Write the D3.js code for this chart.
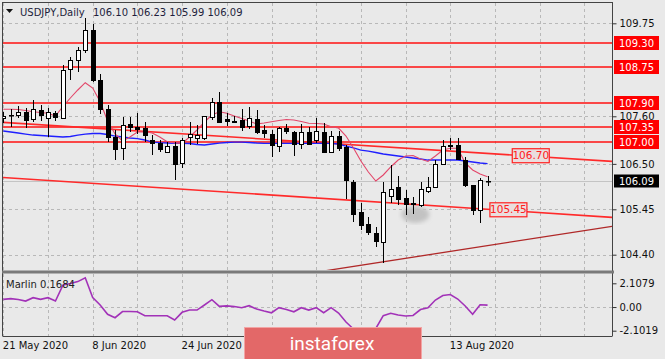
<!DOCTYPE html>
<html><head><meta charset="utf-8">
<script src="https://cdn.jsdelivr.net/npm/d3@7"></script>
<style>
html,body{margin:0;padding:0;background:#e9e9e9;}
svg{display:block;font-family:"DejaVu Sans",Verdana,sans-serif;}
</style></head>
<body>
<svg id="c" width="665" height="359"></svg>
<script>
// ---------- DATA ----------
const symbolTitle = "USDJPY,Daily";
const titleQuote = "106.10 106.23 105.99 106.09";
const open  = [107.55,107.61,107.62,107.70,107.54,107.74,107.55,107.68,107.55,108.69,108.90,109.13,109.60,108.44,107.78,107.13,106.86,107.42,107.36,107.33,107.05,106.99,106.78,106.92,106.51,107.12,107.10,107.09,107.60,107.94,107.53,107.50,107.52,107.36,107.53,107.28,107.20,106.90,107.32,107.24,106.97,107.24,107.05,107.24,106.78,107.14,106.90,106.09,105.39,105.11,104.91,104.70,105.76,105.97,105.72,105.60,105.55,105.87,105.96,106.49,106.90,106.93,106.59,106.01,105.43,106.10];
const high  = [107.70,107.78,107.84,107.80,107.97,107.86,107.80,107.72,108.79,108.98,109.21,109.87,109.73,108.58,107.85,107.28,107.59,107.59,107.67,107.47,107.17,107.05,107.00,107.01,107.09,107.47,107.40,107.60,108.02,108.17,107.67,107.60,107.78,107.82,107.75,107.40,107.28,107.36,107.43,107.27,107.42,107.36,107.55,107.44,107.26,107.26,106.93,106.13,105.59,105.28,105.05,106.09,106.47,106.22,105.90,105.74,106.09,106.20,106.59,107.05,107.09,107.09,106.67,106.01,106.17,106.23];
const low   = [107.45,107.35,107.55,107.33,107.47,107.50,107.13,107.50,107.55,108.45,108.63,109.06,108.40,107.66,107.00,106.59,106.59,107.24,107.20,107.01,106.70,106.78,106.75,106.13,106.40,106.93,106.95,107.05,107.51,107.44,107.37,107.45,107.27,107.30,107.20,107.10,106.67,106.78,107.20,106.68,106.84,106.97,106.99,106.74,106.74,106.80,105.68,105.16,104.97,104.86,104.58,104.20,105.59,105.55,105.32,105.34,105.50,105.83,105.94,106.47,106.82,106.59,105.97,105.32,105.13,105.99];
const close = [107.60,107.62,107.70,107.51,107.78,107.62,107.70,107.59,108.67,108.90,109.13,109.60,108.44,107.78,107.13,106.86,107.40,107.34,107.31,107.17,106.98,106.86,106.92,106.51,107.05,107.18,107.17,107.60,107.94,107.47,107.49,107.48,107.36,107.55,107.24,107.20,106.94,107.32,107.24,106.96,107.24,106.97,107.25,106.78,107.15,106.86,106.13,105.36,105.09,104.93,104.73,105.86,105.93,105.70,105.59,105.58,105.93,105.96,106.49,106.91,106.93,106.60,106.01,105.43,106.13,106.09];
const maFast = [107.762,107.762,107.757,107.734,107.706,107.688,107.669,107.607,107.826,108.023,108.208,108.377,108.254,107.937,107.491,107.190,107.029,107.121,107.237,107.244,107.214,107.121,107.012,106.982,106.975,107.121,107.283,107.468,107.630,107.706,107.669,107.607,107.549,107.491,107.422,107.445,107.475,107.503,107.526,107.514,107.480,107.438,107.433,107.422,107.359,107.329,107.144,106.867,106.566,106.312,106.104,106.243,106.428,106.589,106.682,106.693,106.613,106.555,106.682,106.820,106.860,106.860,106.520,106.358,106.266,106.203];
const maSlow = [107.260,107.237,107.214,107.190,107.167,107.156,107.144,107.133,107.121,107.133,107.167,107.190,107.202,107.202,107.179,107.144,107.121,107.098,107.086,107.052,107.005,106.989,106.982,106.975,106.975,106.971,106.948,106.936,106.959,106.982,106.994,107.005,107.005,106.994,106.982,106.975,106.975,106.975,106.975,106.975,106.975,106.975,106.975,106.975,106.975,106.959,106.913,106.867,106.820,106.797,106.763,106.728,106.705,106.682,106.659,106.636,106.613,106.589,106.589,106.589,106.589,106.589,106.566,106.543,106.520,106.508];
const marlin = [0.68,0.75,0.67,0.53,0.83,0.68,0.83,0.53,1.95,2.09,2.26,2.60,0.84,0.18,-0.65,-0.95,-0.40,-0.40,-0.42,-0.77,-0.77,-0.77,-0.77,-1.15,-0.47,-0.27,-0.27,0.18,0.65,0.06,0.10,0.04,-0.06,0.12,-0.18,-0.36,-0.51,-0.06,-0.22,-0.42,-0.06,-0.27,-0.06,-0.51,-0.06,-0.53,-1.33,-1.95,-2.40,-2.50,-1.90,-0.77,-0.56,-0.71,-0.80,-0.75,-0.22,-0.06,0.62,1.02,1.11,0.71,0.09,-0.65,0.20,0.17];
const marlinName = "Marlin 0.1684";
const levels = [109.30, 108.75, 107.90, 107.35, 107.00];
const priceTicks = [109.75, 107.60, 106.50, 105.45, 104.40];
const lastPrice = 106.09;
const marlinTicks = [2.1079, 0.00, -2.1019];
const marlinTickLabels = ["2.1079", "0.00", "-2.1019"];
const dateTickBars = [0, 12, 24, 60];
const dateTickLabels = ["21 May 2020", "8 Jun 2020", "24 Jun 2020", "13 Aug 2020"];
const upperTrend = [[0, 107.46], [60, 106.797]];
const lowerTrend = [[0, 106.185], [60, 105.508]];
const supportTrend = [[51, 104.236], [65, 104.61]];
const trendLabels = [["106.70", 68.25, 106.70], ["105.45", 65.25, 105.45]];
const blobAt = [55.3, 105.33];
const watermark = "instaforex";

// ---------- LAYOUT ----------
const L = 3, R = 612, T = 3, B = 270, IT = 274, IB = 336;
const svg = d3.select("#c");
const x = d3.scaleLinear().domain([0, 65]).range([3.3, 3.3 + 7.45 * 65]);
const y = d3.scaleLinear().domain([104.40, 109.75]).range([254.7, 23.3]);
const yi = d3.scaleLinear().domain([-2.1019, 2.1079]).range([330.7, 283.3]);
const barMax = x.invert(R);

svg.append("rect").attr("width", 665).attr("height", 359).attr("fill", "#e9e9e9");

const defs = svg.append("defs");
defs.append("clipPath").attr("id", "cm").append("rect").attr("x", L).attr("y", T).attr("width", R - L).attr("height", B - T);
defs.append("clipPath").attr("id", "ci").append("rect").attr("x", L).attr("y", IT).attr("width", R - L).attr("height", IB - IT);
defs.append("filter").attr("id", "blur").append("feGaussianBlur").attr("stdDeviation", 2);

const main = svg.append("g").attr("clip-path", "url(#cm)");
const ind = svg.append("g").attr("clip-path", "url(#ci)");

// vertical grid
const gridBars = d3.range(0, Math.floor(barMax) + 1, 6);
[[main, T, B], [ind, IT, IB]].forEach(([g, a, b]) => {
  g.selectAll(null).data(gridBars).join("line")
    .attr("x1", d => Math.round(x(d)) + 0.5).attr("x2", d => Math.round(x(d)) + 0.5)
    .attr("y1", a).attr("y2", b)
    .attr("stroke", "#b8b8b8").attr("stroke-dasharray", "3,3");
});
// horizontal grid main
main.selectAll(null).data(priceTicks).join("line")
  .attr("x1", L).attr("x2", R)
  .attr("y1", d => Math.round(y(d)) + 0.5).attr("y2", d => Math.round(y(d)) + 0.5)
  .attr("stroke", "#b8b8b8").attr("stroke-dasharray", "3,3");
ind.append("line").attr("x1", L).attr("x2", R)
  .attr("y1", Math.round(yi(0)) + 0.5).attr("y2", Math.round(yi(0)) + 0.5)
  .attr("stroke", "#b8b8b8").attr("stroke-dasharray", "3,3");

// last price line
main.append("line").attr("x1", L).attr("x2", R)
  .attr("y1", Math.round(y(lastPrice)) - 0.5).attr("y2", Math.round(y(lastPrice)) - 0.5)
  .attr("stroke", "#c4c4c4");

// gray blob
main.append("ellipse").attr("cx", x(blobAt[0])).attr("cy", y(blobAt[1]))
  .attr("rx", 14).attr("ry", 8.5).attr("fill", "#c2c2c2").attr("filter", "url(#blur)");

// horizontal levels
main.selectAll(null).data(levels).join("line")
  .attr("x1", L).attr("x2", R)
  .attr("y1", d => Math.round(y(d))).attr("y2", d => Math.round(y(d)))
  .attr("stroke", "#ff1010").attr("stroke-width", 1.6);

// trend lines (extended to the right edge)
function ext(p, from, to) {
  const s = (p[1][1] - p[0][1]) / (p[1][0] - p[0][0]);
  return [[from, p[0][1] + s * (from - p[0][0])], [to, p[0][1] + s * (to - p[0][0])]];
}
const tl = d3.line().x(d => x(d[0])).y(d => y(d[1]));
main.append("path").attr("d", tl(ext(upperTrend, x.invert(L), barMax)))
  .attr("stroke", "#ff2a2a").attr("stroke-width", 1.6).attr("fill", "none");
main.append("path").attr("d", tl(ext(lowerTrend, x.invert(L), barMax)))
  .attr("stroke", "#ff2a2a").attr("stroke-width", 1.6).attr("fill", "none");
main.append("path").attr("d", tl(ext(supportTrend, 40, barMax)))
  .attr("stroke", "#b02828").attr("stroke-width", 1.3).attr("fill", "none");

// moving averages
const ml = d3.line().x((d, i) => x(i)).y(d => y(d));
main.append("path").attr("d", ml(maSlow)).attr("stroke", "#1f1fff").attr("stroke-width", 1.3).attr("fill", "none");
main.append("path").attr("d", ml(maFast)).attr("stroke", "#e3476a").attr("stroke-width", 1.1).attr("fill", "none");

// candles
const idx = d3.range(open.length);
main.selectAll(null).data(idx).join("line")
  .attr("x1", i => Math.round(x(i)) + 0.5).attr("x2", i => Math.round(x(i)) + 0.5)
  .attr("y1", i => Math.round(y(high[i]))).attr("y2", i => Math.round(y(low[i])))
  .attr("stroke", "#000");
main.selectAll(null).data(idx).join("rect")
  .attr("x", i => Math.round(x(i)) - 1.5)
  .attr("y", i => Math.round(y(Math.max(open[i], close[i]))) + 0.5)
  .attr("width", 4)
  .attr("height", i => Math.max(0.5, Math.round(Math.abs(y(open[i]) - y(close[i])))))
  .attr("fill", i => close[i] >= open[i] ? "#ffffff" : "#000000")
  .attr("stroke", "#000");

// trend line labels
trendLabels.forEach(([t, b, p]) => {
  const g = main.append("g").attr("transform", `translate(${x(b)},${y(p)})`);
  g.append("rect").attr("x", 0.5).attr("y", -6.5).attr("width", 37).attr("height", 14)
    .attr("fill", "#eadede").attr("stroke", "#ff2020").attr("stroke-width", 1.2);
  g.append("text").attr("x", 19).attr("y", 4).attr("text-anchor", "middle")
    .attr("font-size", 10.5).attr("fill", "#ff2020").text(t);
});

// Marlin
ind.append("path").attr("d", d3.line().x((d, i) => x(i)).y(d => yi(d))(marlin))
  .attr("stroke", "#a232b8").attr("stroke-width", 1.6).attr("fill", "none");

// frames
svg.append("line").attr("x1", L).attr("x2", R).attr("y1", 2.5).attr("y2", 2.5).attr("stroke", "#444");
svg.append("line").attr("x1", L - 0.5).attr("x2", L - 0.5).attr("y1", 2).attr("y2", IB + 0.5).attr("stroke", "#444");
svg.append("line").attr("x1", R + 0.5).attr("x2", R + 0.5).attr("y1", 2).attr("y2", IB + 0.5).attr("stroke", "#444");
svg.append("rect").attr("x", L - 1).attr("y", 270.5).attr("width", R - L + 3).attr("height", 3).attr("fill", "#7a7a7a");
svg.append("line").attr("x1", L).attr("x2", R).attr("y1", IB + 0.5).attr("y2", IB + 0.5).attr("stroke", "#444");

// right axis (main)
const ax = svg.append("g").attr("transform", `translate(${R + 0.5},0)`)
  .call(d3.axisRight(y).tickValues(priceTicks).tickSize(4).tickPadding(3).tickFormat(d3.format(".2f")));
ax.select(".domain").remove();
ax.selectAll("line").attr("stroke", "#333");
ax.selectAll("text").attr("font-size", 10).attr("fill", "#111").attr("font-family", "DejaVu Sans");

// level labels
levels.forEach(v => {
  const g = svg.append("g").attr("transform", `translate(614,${Math.round(y(v))})`);
  g.append("rect").attr("x", 0).attr("y", -7).attr("width", 45).attr("height", 14).attr("fill", "#ff0000");
  g.append("text").attr("x", 5).attr("y", 4).attr("font-size", 10).attr("fill", "#fff").text(d3.format(".2f")(v));
});
{
  const g = svg.append("g").attr("transform", `translate(614,${Math.round(y(lastPrice)) - 1})`);
  g.append("rect").attr("x", 0).attr("y", -6.5).attr("width", 45).attr("height", 13).attr("fill", "#000");
  g.append("text").attr("x", 5).attr("y", 4).attr("font-size", 10).attr("fill", "#fff").text(d3.format(".2f")(lastPrice));
}

// right axis (indicator)
const ai = svg.append("g").attr("transform", `translate(${R + 0.5},0)`)
  .call(d3.axisRight(yi).tickValues(marlinTicks).tickSize(4).tickPadding(3).tickFormat((d, i) => marlinTickLabels[i]));
ai.select(".domain").remove();
ai.selectAll("line").attr("stroke", "#333");
ai.selectAll("text").attr("font-size", 10).attr("fill", "#111").attr("font-family", "DejaVu Sans");

// x axis labels
const axb = svg.append("g").attr("transform", `translate(0,${IB})`)
  .call(d3.axisBottom(x).tickValues(dateTickBars).tickSize(0).tickPadding(6).tickFormat((d, i) => dateTickLabels[i]));
axb.select(".domain").remove();
axb.selectAll("text").attr("font-size", 10).attr("fill", "#111").attr("font-family", "DejaVu Sans")
  .attr("text-anchor", "start").attr("dx", -1);

// header
svg.append("path").attr("d", "M6,9 L13,9 L9.5,13 Z").attr("fill", "#111");
svg.append("text").attr("x", 20).attr("y", 16).attr("font-size", 10).attr("fill", "#1e1e3c").text(symbolTitle);
svg.append("text").attr("x", 93).attr("y", 16).attr("font-size", 10).attr("fill", "#1e1e3c").text(titleQuote);
svg.append("text").attr("x", 6).attr("y", 288).attr("font-size", 10).attr("fill", "#222").text(marlinName);

// watermark
svg.append("rect").attr("x", 244.5).attr("y", 327.5).attr("width", 177).attr("height", 33)
  .attr("fill", "#e36868").attr("stroke", "#f2a4a4").attr("stroke-width", 1);
svg.append("text").attr("x", 332).attr("y", 350).attr("text-anchor", "middle")
  .attr("font-family", "Roboto, sans-serif").attr("font-size", 19).attr("fill", "#ffffff").text(watermark);
</script>
</body></html>
